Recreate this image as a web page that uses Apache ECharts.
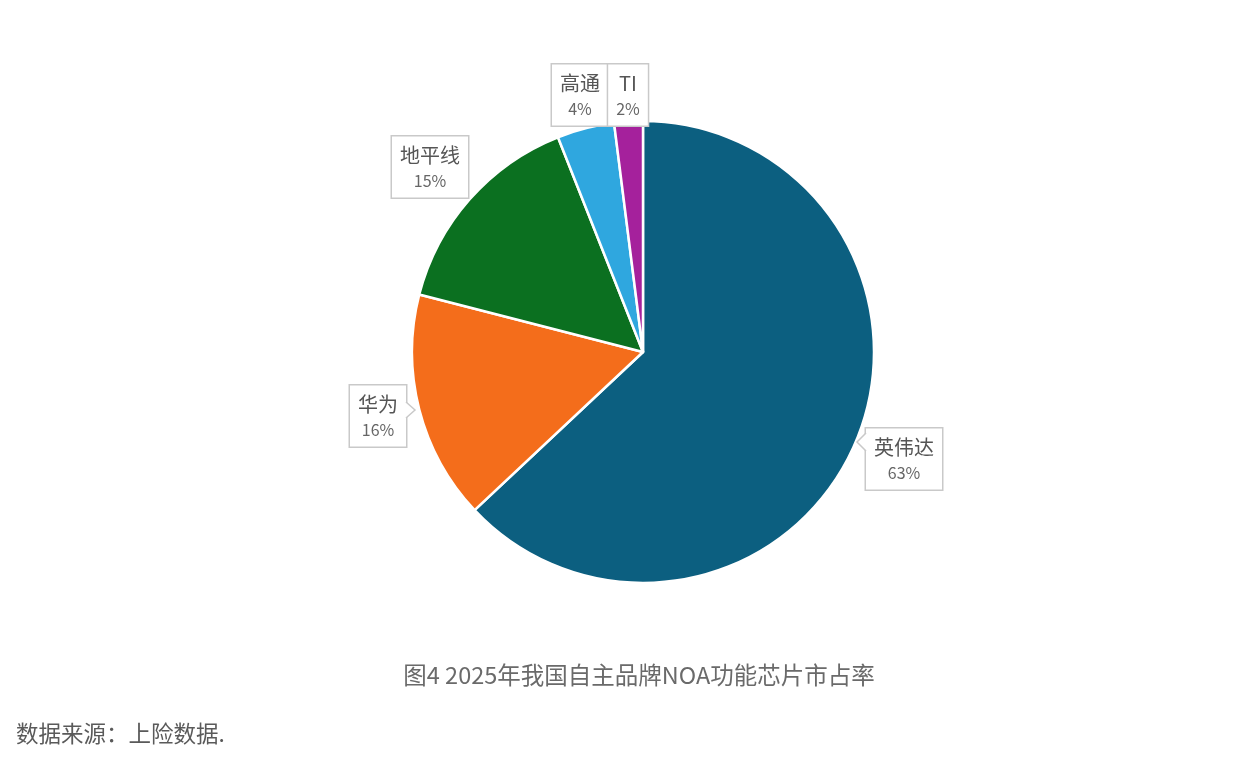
<!DOCTYPE html>
<html><head><meta charset="utf-8">
<script src="https://cdn.jsdelivr.net/npm/echarts@6/dist/echarts.min.js"></script>
<style>html,body{margin:0;padding:0;background:#fff}#c{width:1256px;height:758px}</style>
</head><body><div id="c"></div>
<script>
const categories = ['英伟达', '华为', '地平线', '高通', 'TI'];
const values = [63, 16, 15, 4, 2];
const colors = ['#0c5f80', '#f46d1b', '#0b7020', '#2fa7df', '#a5219c'];
const labelCenters = [[904, 459], [378, 416], [430, 167], [580, 95], [628, 95]];
const titleText = '图4 2025年我国自主品牌NOA功能芯片市占率';
const sourceText = '数据来源：上险数据.';

function pointer(pts) {
  return [
    {type: 'polygon', z: 100, shape: {points: pts}, style: {fill: '#fff', stroke: null}},
    {type: 'polyline', z: 101, shape: {points: pts}, style: {stroke: '#c9c9c9', lineWidth: 1.5, fill: null}}
  ];
}

const chart = echarts.init(document.getElementById('c'));
chart.setOption({
  backgroundColor: '#fff',
  animation: false,
  title: [
    {text: titleText, left: 634, top: 658, textAlign: 'center',
     textStyle: {fontSize: 23.5, fontWeight: 'normal', color: '#6a6a6a', fontFamily: 'Noto Sans CJK SC'}},
    {text: sourceText, left: 11, top: 717,
     textStyle: {fontSize: 22.5, fontWeight: 'normal', color: '#5a5a5a', fontFamily: 'Noto Sans CJK SC'}}
  ],
  graphic: [].concat(
    pointer([[406, 402], [415, 410], [406, 418]]),
    pointer([[866, 433], [857, 442], [866, 451]])
  ),
  series: [{
    type: 'pie',
    center: [643, 352],
    radius: [0, 231],
    startAngle: 90,
    clockwise: true,
    data: categories.map((n, i) => ({name: n, value: values[i], itemStyle: {color: colors[i]}})),
    itemStyle: {borderColor: '#fff', borderWidth: 2.5},
    label: {
      show: true,
      position: 'outside',
      formatter: p => '{a|' + p.name + '}\n{b|' + p.value + '%}',
      backgroundColor: '#fff',
      borderColor: '#c9c9c9',
      borderWidth: 1.5,
      padding: [5, 8, 5, 8],
      align: 'center',
      rich: {
        a: {fontSize: 20, color: '#555', fontFamily: 'Noto Sans CJK SC', lineHeight: 27, align: 'center'},
        b: {fontSize: 16, color: '#666', fontFamily: 'Noto Sans CJK SC', lineHeight: 24, align: 'center'}
      }
    },
    labelLine: {show: false},
    labelLayout: p => ({x: labelCenters[p.dataIndex][0], y: labelCenters[p.dataIndex][1], align: 'center', verticalAlign: 'middle'})
  }]
});
</script></body></html>
